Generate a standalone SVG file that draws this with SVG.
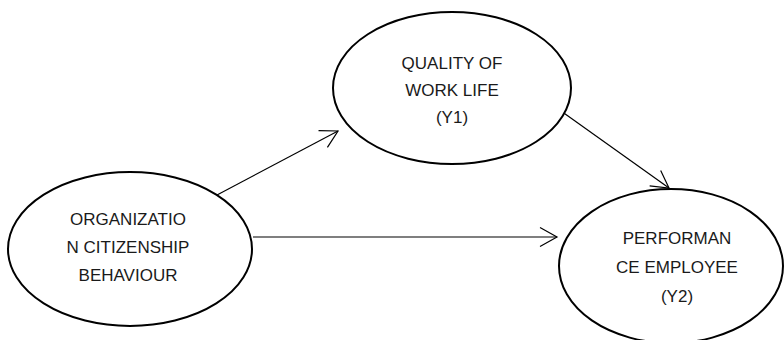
<svg xmlns="http://www.w3.org/2000/svg" width="784" height="340" viewBox="0 0 784 340">
<style>
.node ellipse{fill:#fff;stroke:#000;stroke-width:2}
.node text{font-family:"Liberation Sans","Open Sans",sans-serif;font-size:17px;fill:#1a1a1a;text-anchor:middle}
.edge{stroke:#000;stroke-width:1.2;fill:none;marker-end:url(#arr)}
</style>
<defs>
<marker id="arr" markerUnits="userSpaceOnUse" viewBox="-20 -12 22 24" refX="0" refY="0" markerWidth="22" markerHeight="24" orient="auto">
<path d="M-17,-9.5 L0,0 L-17,9.5" fill="none" stroke="#000" stroke-width="1.2"/>
</marker>
</defs>
<rect width="784" height="340" fill="#fff"/>
<g id="connectors">
<line class="edge" x1="217" y1="195" x2="338" y2="131"/>
<line class="edge" x1="253" y1="237" x2="557" y2="237"/>
<line class="edge" x1="561" y1="111" x2="669" y2="188"/>
</g>
<g id="ocb" class="node">
<ellipse cx="130" cy="249" rx="122" ry="77"/>
<text x="128" y="225">ORGANIZATIO</text>
<text x="128" y="253">N CITIZENSHIP</text>
<text x="128" y="281">BEHAVIOUR</text>
</g>
<g id="qwl" class="node">
<ellipse cx="452" cy="88" rx="119" ry="76"/>
<text x="452" y="69">QUALITY OF</text>
<text x="452" y="96">WORK LIFE</text>
<text x="452" y="123">(Y1)</text>
</g>
<g id="pe" class="node">
<ellipse cx="671" cy="266" rx="112" ry="77"/>
<text x="677" y="244">PERFORMAN</text>
<text x="677" y="273">CE EMPLOYEE</text>
<text x="677" y="302">(Y2)</text>
</g>
</svg>
